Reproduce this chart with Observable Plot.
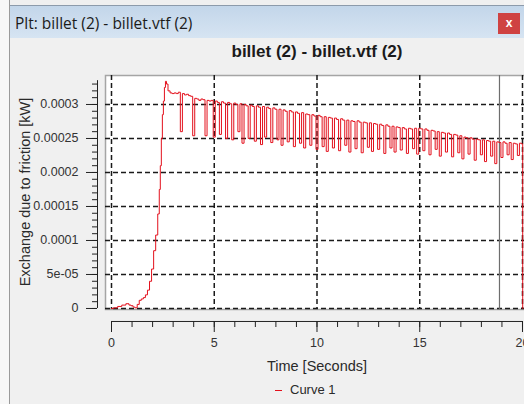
<!DOCTYPE html>
<html>
<head>
<meta charset="utf-8">
<script src="https://cdn.jsdelivr.net/npm/d3@7"></script>
<script src="https://cdn.jsdelivr.net/npm/@observablehq/plot@0.6"></script>
<style>
  html, body { margin: 0; padding: 0; }
  body { width: 524px; height: 404px; overflow: hidden; background: #f0f0f0; position: relative;
         font-family: "Liberation Sans", Arial, sans-serif; }
  #leftpad { position: absolute; left: 0; top: 0; width: 9px; height: 404px; background: #f7f7f7; border-right: 1px solid #9a9a9a; }
  #titlebar { position: absolute; left: 10px; top: 5px; width: 514px; height: 32px;
              background: linear-gradient(#c3d6ea, #d6e4f2); border-top: 1px solid #8d9bab; }
  #titlebar span { position: absolute; left: 5px; top: 6px; font-size: 15.5px; color: #1b1b1b; font-family: "Open Sans", "Liberation Sans", sans-serif; }
  #close { position: absolute; left: 488px; top: 7px; width: 22px; height: 21px; background: #cf4242;
           color: #fff; font-size: 12px; font-weight: bold; text-align: center; line-height: 20px; }
  #chart { position: absolute; left: 0; top: 0; }
  #chart svg { max-width: none !important; }
  #ctitle { position: absolute; left: 117px; width: 400px; top: 42px; text-align: center; font-size: 17px; font-weight: bold; color: #1b1b1b; }
  #ytitle { position: absolute; left: 25px; top: 192px; transform: translate(-50%, -50%) rotate(-90deg);
            white-space: nowrap; font-size: 14.5px; color: #2a2a2a; }
  #xtitle { position: absolute; left: 117px; width: 400px; top: 358px; text-align: center; font-size: 14.5px; color: #2a2a2a; }
  #legend { position: absolute; left: 275px; top: 382px; font-size: 13px; color: #2a2a2a; white-space: nowrap; }
  #legend i { display: inline-block; width: 7px; height: 1.5px; background: #e3101c; vertical-align: middle; margin-right: 8px; }
</style>
</head>
<body>
<div id="leftpad"></div>
<div id="titlebar"><span>Plt: billet (2) - billet.vtf (2)</span><div id="close">x</div></div>
<div id="chart"></div>
<div id="ctitle">billet (2) - billet.vtf (2)</div>
<div id="ytitle">Exchange due to friction [kW]</div>
<div id="xtitle">Time [Seconds]</div>
<div id="legend"><i></i>Curve 1</div>
<script>
// Curve 1: time (s) and friction exchange (kW)
const times = [
  0, 0.2, 0.4, 0.6, 0.8, 0.9, 1.0, 1.1, 1.2, 1.3, 1.4, 1.5, 1.6, 1.7, 1.8, 1.9,
  2.0, 2.1, 2.2, 2.3, 2.35, 2.4, 2.45, 2.5, 2.55, 2.6, 2.65, 2.7, 2.8, 2.9,
  3.0, 3.1, 3.2, 3.3, 3.4, 3.5, 3.6, 3.7, 3.8, 3.9,
  4.0, 4.1, 4.2, 4.3, 4.4, 4.5, 4.6, 4.7, 4.8, 4.9,
  5.0, 5.1, 5.2, 5.3, 5.4, 5.5, 5.6, 5.7, 5.8, 5.9,
  6.0, 6.1, 6.2, 6.3, 6.4, 6.5, 6.6, 6.7, 6.8, 6.9,
  7.0, 7.1, 7.2, 7.3, 7.4, 7.5, 7.6, 7.7, 7.8, 7.9,
  8.0, 8.1, 8.2, 8.3, 8.4, 8.5, 8.6, 8.7, 8.8, 8.9,
  9.0, 9.1, 9.2, 9.3, 9.4, 9.5, 9.6, 9.7, 9.8, 9.9,
  10.0, 10.1, 10.2, 10.3, 10.4, 10.5, 10.6, 10.7, 10.8, 10.9,
  11.0, 11.1, 11.2, 11.3, 11.4, 11.5, 11.6, 11.7, 11.8, 11.9,
  12.0, 12.1, 12.2, 12.3, 12.4, 12.5, 12.6, 12.7, 12.8, 12.9,
  13.0, 13.1, 13.2, 13.3, 13.4, 13.5, 13.6, 13.7, 13.8, 13.9,
  14.0, 14.1, 14.2, 14.3, 14.4, 14.5, 14.6, 14.7, 14.8, 14.9,
  15.0, 15.1, 15.2, 15.3, 15.4, 15.5, 15.6, 15.7, 15.8, 15.9,
  16.0, 16.1, 16.2, 16.3, 16.4, 16.5, 16.6, 16.7, 16.8, 16.9,
  17.0, 17.1, 17.2, 17.3, 17.4, 17.5, 17.6, 17.7, 17.8, 17.9,
  18.0, 18.1, 18.2, 18.3, 18.4, 18.5, 18.6, 18.7, 18.8, 18.9,
  19.0, 19.1, 19.2, 19.3, 19.4, 19.5, 19.6, 19.7, 19.8, 19.9,
  20.0, 20.02
];
const values = [
  0, 1e-6, 3e-6, 5e-6, 7e-6, 5e-6, 4e-6, 2e-6, 1e-6, 6e-6, 12e-6, 14e-6, 16e-6, 20e-6, 27e-6, 40e-6,
  58e-6, 85e-6, 108e-6, 139e-6, 175e-6, 210e-6, 250e-6, 285e-6, 305e-6, 325e-6, 334e-6, 330e-6, 320e-6, 317e-6,
  316e-6, 317e-6, 316e-6, 318e-6, 260e-6, 316e-6, 314e-6, 315e-6, 313e-6, 312e-6,
  254e-6, 309e-6, 308e-6, 306e-6, 308e-6, 307e-6, 254e-6, 306e-6, 305e-6, 306e-6,
  252e-6, 305e-6, 303e-6, 256e-6, 304e-6, 302e-6, 250e-6, 303e-6, 301e-6, 248e-6,
  302e-6, 300e-6, 260e-6, 301e-6, 243e-6, 300e-6, 298e-6, 250e-6, 299e-6, 297e-6,
  246e-6, 298e-6, 296e-6, 241e-6, 297e-6, 252e-6, 296e-6, 294e-6, 244e-6, 295e-6,
  293e-6, 248e-6, 293e-6, 240e-6, 292e-6, 290e-6, 245e-6, 291e-6, 289e-6, 238e-6,
  289e-6, 287e-6, 243e-6, 288e-6, 236e-6, 286e-6, 285e-6, 240e-6, 285e-6, 283e-6,
  234e-6, 284e-6, 282e-6, 238e-6, 282e-6, 231e-6, 281e-6, 280e-6, 236e-6, 280e-6,
  278e-6, 232e-6, 279e-6, 277e-6, 240e-6, 277e-6, 230e-6, 276e-6, 275e-6, 235e-6,
  276e-6, 274e-6, 229e-6, 274e-6, 273e-6, 237e-6, 273e-6, 231e-6, 272e-6, 271e-6,
  234e-6, 271e-6, 269e-6, 228e-6, 270e-6, 268e-6, 236e-6, 268e-6, 230e-6, 267e-6,
  266e-6, 233e-6, 266e-6, 264e-6, 228e-6, 265e-6, 264e-6, 235e-6, 265e-6, 227e-6,
  265e-6, 264e-6, 232e-6, 264e-6, 262e-6, 226e-6, 262e-6, 261e-6, 234e-6, 260e-6,
  224e-6, 259e-6, 258e-6, 230e-6, 258e-6, 256e-6, 223e-6, 256e-6, 255e-6, 229e-6,
  254e-6, 220e-6, 252e-6, 251e-6, 227e-6, 251e-6, 249e-6, 218e-6, 249e-6, 248e-6,
  226e-6, 248e-6, 216e-6, 247e-6, 246e-6, 224e-6, 246e-6, 213e-6, 245e-6, 244e-6,
  222e-6, 245e-6, 243e-6, 226e-6, 244e-6, 219e-6, 243e-6, 242e-6, 225e-6, 243e-6,
  242e-6, 0
];
const cursorTime = [18.88];

const xMajorTicks = [0, 5, 10, 15, 20];
const xTickLabels = ["0", "5", "10", "15", "20"];
const xMinorTicks = [0, 1, 2, 3, 4, 5, 6, 7, 8, 9, 10, 11, 12, 13, 14, 15, 16, 17, 18, 19, 20];
const yMajorTicks = [0, 0.00005, 0.0001, 0.00015, 0.0002, 0.00025, 0.0003];
const yTickLabels = ["0", "5e-05", "0.0001", "0.00015", "0.0002", "0.00025", "0.0003"];
const yMinorTicks = [0, 0.00001, 0.00002, 0.00003, 0.00004, 0.00005, 0.00006, 0.00007, 0.00008, 0.00009,
  0.0001, 0.00011, 0.00012, 0.00013, 0.00014, 0.00015, 0.00016, 0.00017, 0.00018, 0.00019,
  0.0002, 0.00021, 0.00022, 0.00023, 0.00024, 0.00025, 0.00026, 0.00027, 0.00028, 0.00029,
  0.0003, 0.00031, 0.00032, 0.00033];

const xDomain = [-0.292, 20.584];
const yDomain = [-0.0000015, 0.0003426];
const yAxisTop = 0.000335;

const data = times.map((t, i) => ({t, v: values[i]}));

const dash = {stroke: "#1a1a1a", strokeOpacity: 1, strokeWidth: 1.5, strokeDasharray: "5,3"};

const chart = Plot.plot({
  width: 534, height: 404,
  marginTop: 75, marginBottom: 95, marginLeft: 105, marginRight: 0,
  style: {background: "transparent", fontFamily: "'Liberation Sans', Arial, sans-serif", fontSize: "12.5px", color: "#333", overflow: "visible", maxWidth: "none"},
  x: {domain: xDomain, axis: null},
  y: {domain: yDomain, axis: null},
  marks: [
    Plot.frame({fill: "white", stroke: "#a5a5a5", strokeWidth: 1.5}),
    Plot.gridY(yMajorTicks, dash),
    Plot.gridX(xMajorTicks, dash),
    Plot.ruleX(cursorTime, {stroke: "#6e6e6e", strokeWidth: 1.2}),
    Plot.line(data, {x: "t", y: "v", stroke: "#e3101c", strokeWidth: 1, curve: "step"}),
    // y axis (offset left of the frame)
    Plot.ruleX([xDomain[0]], {y1: 0, y2: yAxisTop, dx: -8, stroke: "#222"}),
    Plot.axisY({ticks: yMinorTicks, anchor: "left", tickSize: 5, dx: -8, tickFormat: () => "", label: null, stroke: "#222"}),
    Plot.axisY({ticks: yMajorTicks, anchor: "left", tickSize: 11, tickPadding: 8, dx: -8, label: null, stroke: "#222",
                tickFormat: d => yTickLabels[yMajorTicks.indexOf(d)]}),
    // x axis (offset below the frame)
    Plot.ruleY([0], {x1: xMajorTicks[0], x2: xMajorTicks[xMajorTicks.length - 1], dy: 13, stroke: "#222"}),
    Plot.axisX({ticks: xMinorTicks, anchor: "bottom", tickSize: 6, dy: 12, tickFormat: () => "", label: null, stroke: "#222"}),
    Plot.axisX({ticks: xMajorTicks, anchor: "bottom", tickSize: 11, tickPadding: 6, dy: 12, label: null, stroke: "#222",
                tickFormat: d => xTickLabels[xMajorTicks.indexOf(d)]})
  ]
});
document.getElementById("chart").appendChild(chart);
</script>
</body>
</html>
